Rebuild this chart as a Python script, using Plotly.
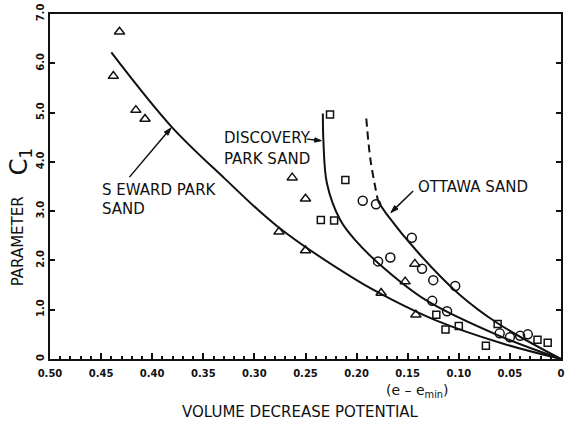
import plotly.graph_objects as go

# ---- data ----
seward_pts_e = [0.432, 0.438, 0.416, 0.407, 0.263, 0.250, 0.276, 0.250, 0.176, 0.1525, 0.143, 0.142]
seward_pts_c = [6.64, 5.74, 5.05, 4.87, 3.68, 3.25, 2.58, 2.20, 1.34, 1.57, 1.93, 0.90]

discovery_pts_e = [0.226, 0.211, 0.235, 0.222, 0.122, 0.113, 0.100, 0.0735, 0.062, 0.023, 0.013]
discovery_pts_c = [4.96, 3.63, 2.82, 2.81, 0.90, 0.60, 0.67, 0.27, 0.71, 0.39, 0.33]

ottawa_pts_e = [0.194, 0.181, 0.146, 0.167, 0.179, 0.136, 0.125, 0.1035, 0.126, 0.1115, 0.060, 0.050, 0.040, 0.0325]
ottawa_pts_c = [3.21, 3.14, 2.46, 2.06, 1.98, 1.83, 1.60, 1.48, 1.18, 0.97, 0.52, 0.44, 0.47, 0.50]

seward_curve_e = [0.440, 0.381, 0.329, 0.278, 0.200, 0.165, 0.123, 0.058, 0.0]
seward_curve_c = [6.22, 4.71, 3.66, 2.70, 1.60, 1.20, 0.79, 0.32, 0.0]

discovery_curve_e = [0.233, 0.2325, 0.229, 0.216, 0.200, 0.179, 0.1325, 0.058, 0.0]
discovery_curve_c = [4.98, 4.44, 3.56, 2.82, 2.38, 1.95, 1.20, 0.45, 0.0]

ottawa_dash_e = [0.1905, 0.1864, 0.179]
ottawa_dash_c = [4.88, 4.04, 3.20]
ottawa_curve_e = [0.179, 0.171, 0.139, 0.100, 0.0616, 0.0]
ottawa_curve_c = [3.20, 2.95, 2.14, 1.32, 0.72, 0.0]

x_tickvals = [0.50, 0.45, 0.40, 0.35, 0.30, 0.25, 0.20, 0.15, 0.10, 0.05, 0.0]
x_ticktext = ["0.50", "0.45", "0.40", "0.35", "0.30", "0.25", "0.20", "0.15", "0.10", "0.05", "0"]
y_tickvals = [0, 1, 2, 3, 4, 5, 6, 7]
y_ticktext = ["0", "1.0", "2.0", "3.0", "4.0", "5.0", "6.0", "7.0"]

# label arrows: (tail e, head e), (tail C1, head C1)
seward_arrow = ([0.4223, 0.3815], [3.69, 4.69])
discovery_arrow = ([0.2485, 0.2345], [4.46, 4.43])
ottawa_arrow = ([0.1447, 0.1665], [3.41, 2.97])

FONT = "DejaVu Sans"
BLACK = "#111111"

fig = go.Figure()

def curve(xs, ys, dash="solid"):
    fig.add_trace(go.Scatter(x=xs, y=ys, mode="lines",
                             line=dict(color=BLACK, width=2, dash=dash, shape="spline", smoothing=1.0),
                             hoverinfo="skip", showlegend=False))

curve(seward_curve_e, seward_curve_c)
curve(discovery_curve_e, discovery_curve_c)
curve(ottawa_curve_e, ottawa_curve_c)
curve(ottawa_dash_e, ottawa_dash_c, dash="8px,5px")

def pts(xs, ys, symbol, size):
    fig.add_trace(go.Scatter(x=xs, y=ys, mode="markers",
                             marker=dict(symbol=symbol, size=size, color=BLACK,
                                         line=dict(color=BLACK, width=1.5)),
                             showlegend=False))

pts(seward_pts_e, seward_pts_c, "triangle-up-open", 9)
pts(discovery_pts_e, discovery_pts_c, "square-open", 7)
pts(ottawa_pts_e, ottawa_pts_c, "circle-open", 9)

def arrow(xy, width=1.5, head=8):
    xs, ys = xy
    fig.add_trace(go.Scatter(x=xs, y=ys, mode="lines+markers",
                             line=dict(color=BLACK, width=width),
                             marker=dict(symbol=["circle", "arrow"], size=[0, head], color=BLACK,
                                         opacity=1, angleref="previous",
                                         line=dict(width=1, color=BLACK)),
                             hoverinfo="skip", showlegend=False))

arrow(seward_arrow)
arrow(discovery_arrow, width=1.3, head=7)
arrow(ottawa_arrow)

ann_font = dict(family=FONT, size=15, color=BLACK)
annotations = [
    dict(x=0.4515, y=3.43, text="S EWARD PARK", xanchor="left", yanchor="middle", showarrow=False, font=ann_font),
    dict(x=0.4515, y=3.05, text="SAND", xanchor="left", yanchor="middle", showarrow=False, font=ann_font),
    dict(x=0.332, y=4.48, text="DISCOVERY", xanchor="left", yanchor="middle", showarrow=False, font=ann_font),
    dict(x=0.332, y=4.06, text="PARK SAND", xanchor="left", yanchor="middle", showarrow=False, font=ann_font),
    dict(x=0.1417, y=3.49, text="OTTAWA SAND", xanchor="left", yanchor="middle", showarrow=False, font=ann_font),
]

W, H = 568, 426
ML, MR, MT, MB = 50, 3, 14, 67
PW, PH = W - ML - MR, H - MT - MB

def px_to_paper(px, py):
    return (px - ML) / PW, (H - MB - py) / PH

def paper_text(px, py, text, size, angle=0):
    xp, yp = px_to_paper(px, py)
    return dict(x=xp, y=yp, xref="paper", yref="paper", xanchor="center", yanchor="middle",
                text=text, textangle=angle, showarrow=False,
                font=dict(family=FONT, size=size, color=BLACK))

annotations.append(paper_text(420, 391, "(e – e<sub>min</sub>)", 14))
annotations.append(paper_text(302, 412, "VOLUME DECREASE POTENTIAL", 15))
annotations.append(paper_text(18, 241, "PARAMETER", 15, -90))
annotations.append(paper_text(20, 162, "C<sub>1</sub>", 24, -90))

fig.update_layout(
    width=W, height=H,
    margin=dict(l=ML, r=MR, t=MT, b=MB),
    paper_bgcolor="white", plot_bgcolor="white",
    showlegend=False,
    annotations=annotations,
    xaxis=dict(range=[0.5, 0.0], tickvals=x_tickvals, ticktext=x_ticktext,
               showgrid=False, zeroline=False, showline=True, linecolor=BLACK, linewidth=2,
               mirror=True, ticks="inside", ticklen=6, tickwidth=1.5, tickcolor=BLACK,
               minor=dict(dtick=0.01, ticks="inside", ticklen=3, tickcolor=BLACK, showgrid=False),
               tickfont=dict(family=FONT, size=10, color=BLACK, weight="bold"),
               ticklabelstandoff=4),
    yaxis=dict(range=[0, 7.0], tickvals=y_tickvals, ticktext=y_ticktext, tickangle=-90,
               showgrid=False, zeroline=False, showline=True, linecolor=BLACK, linewidth=2,
               mirror="ticks", ticks="inside", ticklen=5, tickwidth=1.5, tickcolor=BLACK,
               tickfont=dict(family=FONT, size=10, color=BLACK, weight="bold"),
               ticklabelstandoff=0),
)

fig.write_html("out.html")
